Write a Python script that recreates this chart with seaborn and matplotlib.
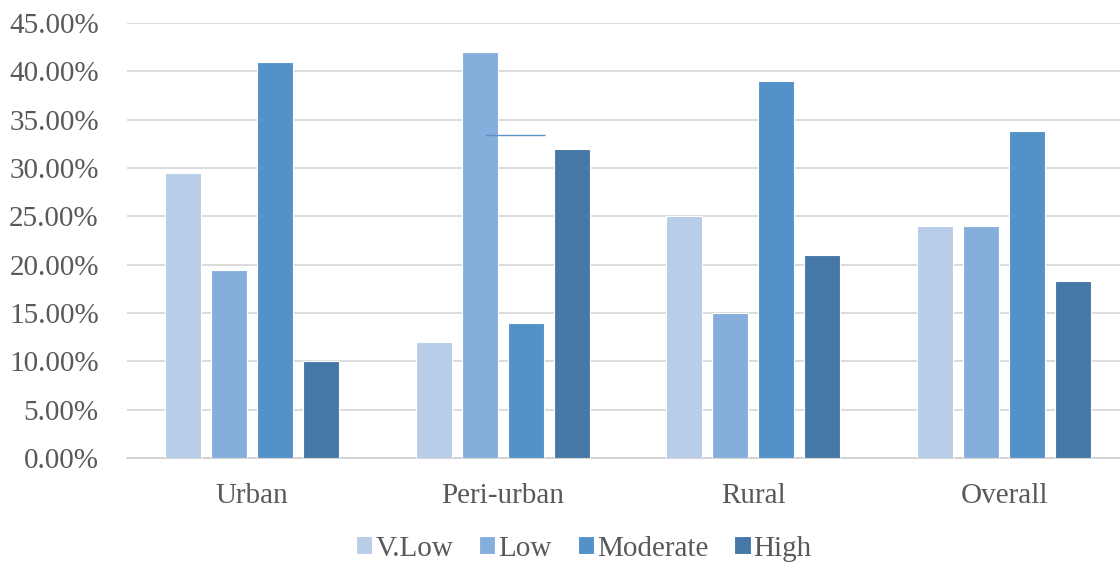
import matplotlib
matplotlib.use("Agg")
import matplotlib.pyplot as plt
import seaborn as sns
import pandas as pd
from matplotlib.ticker import FuncFormatter

categories = ["Urban", "Peri-urban", "Rural", "Overall"]
levels = ["V.Low", "Low", "Moderate", "High"]
vlow = [29.5, 12.0, 25.0, 24.0]
low = [19.5, 42.0, 15.0, 24.0]
moderate = [41.0, 14.0, 39.0, 33.8]
high = [10.0, 32.0, 21.0, 18.3]
stray_line_value = 33.4

colors = ["#b8cde8", "#86aedc", "#5491c8", "#4678a7"]

rows = []
for lvl, vals in zip(levels, [vlow, low, moderate, high]):
    for c, v in zip(categories, vals):
        rows.append({"Area": c, "Level": lvl, "Value": v})
df = pd.DataFrame(rows)

sns.set_theme(style="white")
plt.rcParams["font.family"] = ["Liberation Serif", "DejaVu Serif"]

fig = plt.figure(figsize=(11.2, 5.62), dpi=100)
ax = fig.add_axes([0.113, 0.185, 0.8955, 0.774])

sns.barplot(data=df, x="Area", y="Value", hue="Level", order=categories,
            hue_order=levels, palette=colors, saturation=1, width=0.734, gap=0.217,
            edgecolor="white", linewidth=0.8, ax=ax, legend=True, zorder=3)

ax.set_ylim(0, 45)
ax.set_yticks(range(0, 46, 5))
ax.yaxis.set_major_formatter(FuncFormatter(lambda v, p: f"{v:.2f}%"))
ax.grid(axis="y", color="#d9d9d9", linewidth=1.3, zorder=0)
ax.set_axisbelow(True)
for s in ["top", "right", "left"]:
    ax.spines[s].set_visible(False)
ax.spines["bottom"].set_color("#d0d0d0")
ax.spines["bottom"].set_linewidth(1.3)
ax.set_xlim(-0.5, 3.5)
ax.set_xlabel("")
ax.set_ylabel("")
ax.tick_params(axis="both", length=0, labelsize=21, colors="#595959")
ax.tick_params(axis="x", pad=18)
ax.tick_params(axis="y", pad=20)

# stray line in peri-urban group
ax.hlines(stray_line_value, 0.93, 1.17, color="#5b8fc7", linewidth=1.0, zorder=4)

handles, labels = ax.get_legend_handles_labels()
ax.legend(handles, labels, loc="center", bbox_to_anchor=(0.456, -0.208),
          ncol=4, frameon=False, fontsize=21, handlelength=0.55, handleheight=0.55,
          handletextpad=0.1, columnspacing=0.9, labelcolor="#595959",
          borderpad=0, borderaxespad=0)

fig.savefig("out.png", dpi=100)
